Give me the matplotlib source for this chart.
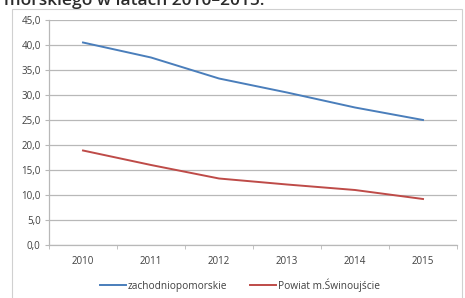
import matplotlib
matplotlib.use("Agg")
import matplotlib.pyplot as plt
from matplotlib.patches import Rectangle
from matplotlib.ticker import FixedLocator, FuncFormatter

years = ["2010", "2011", "2012", "2013", "2014", "2015"]
zachodniopomorskie = [40.5, 37.5, 33.3, 30.5, 27.5, 25.0]
swinoujscie = [18.9, 16.0, 13.3, 12.1, 11.0, 9.2]
series_names = ["zachodniopomorskie", "Powiat m.Świnoujście"]
title_text = "morskiego w latach 2010–2015."

W, H = 465, 298
fig = plt.figure(figsize=(W / 100, H / 100), dpi=100)
fig.patch.set_facecolor("white")
plt.rcParams["font.family"] = ["Open Sans", "DejaVu Sans"]

# title, partly cut off at the top edge as in the reference
fig.text(4 / W, 1 - 5 / H, title_text, fontsize=12.5, fontweight="semibold",
         color="#2b2b2b", va="baseline", ha="left", family=["Open Sans", "DejaVu Sans"])

# chart frame
fig.patches.append(Rectangle((12 / W, -0.05), (462 - 12) / W, 1.05 - 9 / H,
                             transform=fig.transFigure, fill=False,
                             edgecolor="#d0d0d0", linewidth=0.8))

ax = fig.add_axes([49 / W, 1 - 245 / H, (457 - 49) / W, (245 - 20) / H])
x = list(range(len(years)))
ax.plot(x, zachodniopomorskie, color="#4a7ebb", linewidth=1.4, label=series_names[0])
ax.plot(x, swinoujscie, color="#be4b48", linewidth=1.4, label=series_names[1])

ax.set_xlim(-0.5, len(years) - 0.5)
ax.set_ylim(0, 45)
ax.yaxis.set_major_locator(FixedLocator([i * 5 for i in range(10)]))
ax.yaxis.set_major_formatter(FuncFormatter(lambda v, p: f"{v:.1f}".replace(".", ",")))
ax.set_xticks(x)
ax.set_xticklabels(years)
ax.xaxis.set_minor_locator(FixedLocator([i - 0.5 for i in range(len(years) + 1)]))

ax.grid(axis="y", color="#b8b8b8", linewidth=0.9)
ax.set_axisbelow(True)
for s in ["top", "right"]:
    ax.spines[s].set_visible(False)
for s in ["left", "bottom"]:
    ax.spines[s].set_color("#b8b8b8")
    ax.spines[s].set_linewidth(0.9)

ax.tick_params(axis="y", length=3, color="#b8b8b8", labelsize=7, labelcolor="#404040", pad=3)
ax.tick_params(axis="x", which="major", length=0, labelsize=7, labelcolor="#404040", pad=8)
ax.tick_params(axis="x", which="minor", length=3, color="#b8b8b8")

fig.legend(loc="center", bbox_to_anchor=(240 / W, 1 - 285 / H), ncol=2, frameon=False,
           fontsize=7.3, handlelength=2.6, columnspacing=2.2, handletextpad=0.2,
           labelcolor="#404040")

fig.savefig("out.png", dpi=100, facecolor="white")
